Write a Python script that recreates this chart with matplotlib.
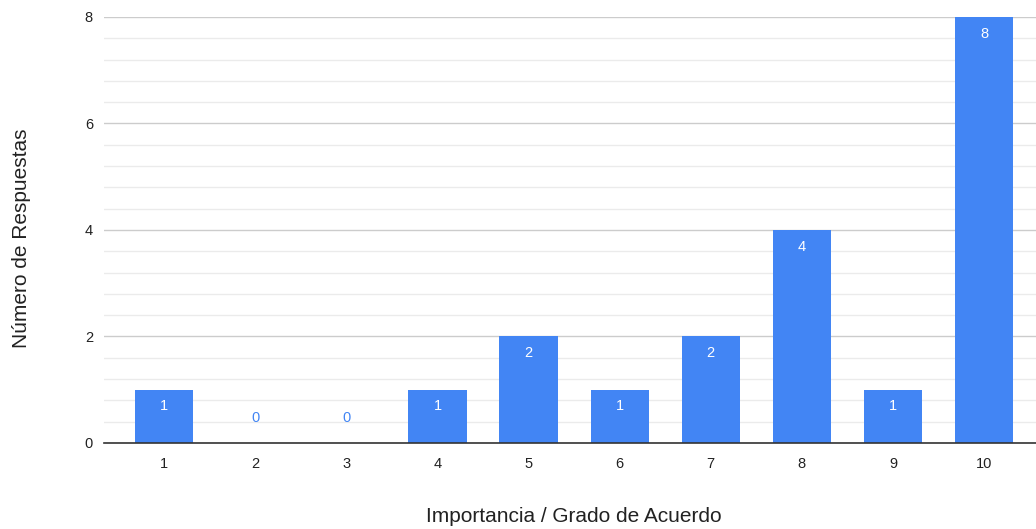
import matplotlib
matplotlib.use("Agg")
import matplotlib.pyplot as plt
import numpy as np

categories = ["1", "2", "3", "4", "5", "6", "7", "8", "9", "10"]
responses = [1, 0, 0, 1, 2, 1, 2, 4, 1, 8]

bar_color = "#4285F4"
plt.rcParams["font.family"] = ["Liberation Sans", "DejaVu Sans"]

fig = plt.figure(figsize=(10.36, 5.29), dpi=100)
ax = fig.add_axes([0.1004, 0.1626, 0.8996, 0.8053])

x = np.arange(1, len(categories) + 1)
ax.bar(x, responses, width=0.64, color=bar_color, zorder=3)

ax.set_xlim(0.34, 10.57)
ax.set_ylim(0, 8)
ax.set_yticks([0, 2, 4, 6, 8])
ax.set_yticks(np.arange(0, 8.01, 0.4), minor=True)
ax.grid(axis="y", which="major", color="#cccccc", linewidth=1.0, zorder=0)
ax.grid(axis="y", which="minor", color="#ebebeb", linewidth=1.0, zorder=0)
ax.set_xticks(x)
ax.set_xticklabels(categories)
ax.tick_params(axis="both", which="both", length=0, labelsize=10.5, colors="#222222")
ax.tick_params(axis="x", pad=10)
ax.tick_params(axis="y", pad=8)

for s in ["top", "right", "left"]:
    ax.spines[s].set_visible(False)
ax.spines["bottom"].set_color("#333333")
ax.spines["bottom"].set_linewidth(1.2)
ax.spines["bottom"].set_zorder(4)

# value labels: inside the bar for non-zero counts, above the baseline for zeros
for xi, v in zip(x, responses):
    if v > 0:
        ax.annotate(str(v), (xi, v), xytext=(0, -12), textcoords="offset points",
                    ha="center", va="center", color="white", fontsize=10.5, zorder=5)
    else:
        ax.annotate(str(v), (xi, v), xytext=(0, 18), textcoords="offset points",
                    ha="center", va="center", color=bar_color, fontsize=10.5, zorder=5)

fig.text(574 / 1036, 1 - 516 / 529, "Importancia / Grado de Acuerdo",
         fontsize=15, color="#222222", ha="center", va="center")
fig.text(22 / 1036, 1 - 238 / 529, "Número de Respuestas",
         fontsize=15, color="#222222", ha="center", va="center", rotation=90)

fig.savefig("out.png", dpi=100, facecolor="white")
